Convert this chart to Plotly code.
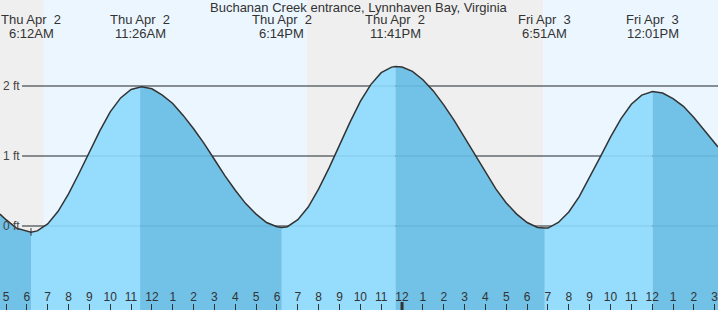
import plotly.graph_objects as go

# ---- data (hours since Thu Apr 2 00:00), heights in ft ----
times = [4.71, 5.0, 5.5, 6.0, 6.2, 6.5, 7.0, 7.5, 8.0, 8.5, 9.0, 9.5, 10.0, 10.5, 11.0, 11.433,
         11.5, 12.0, 12.5, 13.0, 13.5, 14.0, 14.5, 15.0, 15.5, 16.0, 16.5, 17.0, 17.5, 18.0,
         18.233, 18.5, 19.0, 19.5, 20.0, 20.5, 21.0, 21.5, 22.0, 22.5, 23.0, 23.5, 23.683,
         24.0, 24.5, 25.0, 25.5, 26.0, 26.5, 27.0, 27.5, 28.0, 28.5, 29.0, 29.5, 30.0, 30.5,
         30.85, 31.0, 31.5, 32.0, 32.5, 33.0, 33.5, 34.0, 34.5, 35.0, 35.5, 36.017, 36.5,
         37.0, 37.5, 38.0, 38.5, 39.0, 39.16]
heights = [0.17, 0.09, -0.03, -0.08, -0.09, -0.07, 0.03, 0.21, 0.46, 0.75, 1.06, 1.36, 1.63,
           1.83, 1.95, 1.99, 1.99, 1.96, 1.87, 1.75, 1.58, 1.39, 1.18, 0.95, 0.72, 0.51, 0.32,
           0.17, 0.05, -0.01, -0.02, -0.01, 0.09, 0.27, 0.53, 0.83, 1.16, 1.48, 1.78, 2.02,
           2.19, 2.27, 2.28, 2.27, 2.21, 2.09, 1.93, 1.73, 1.51, 1.26, 1.01, 0.76, 0.53, 0.33,
           0.17, 0.05, -0.02, -0.03, -0.03, 0.05, 0.20, 0.42, 0.69, 0.98, 1.27, 1.53, 1.74,
           1.87, 1.92, 1.90, 1.82, 1.71, 1.55, 1.37, 1.18, 1.13]

event_times = [6.2, 11.433, 18.233, 23.683, 30.85, 36.017]
event_dates = ["Thu Apr\u00a0 2", "Thu Apr\u00a0 2", "Thu Apr\u00a0 2", "Thu Apr\u00a0 2",
               "Fri Apr\u00a0 3", "Fri Apr\u00a0 3"]
event_clock = ["6:12AM", "11:26AM", "6:14PM", "11:41PM", "6:51AM", "12:01PM"]

# sunrise / sunset boundaries (hours) and whether the span is night
sun_bounds = [4.71, 6.82, 19.43, 30.77, 39.16]
sun_night = [True, False, True, False]

tick_hours = list(range(5, 40))
tick_labels = ["5", "6", "7", "8", "9", "10", "11", "12", "1", "2", "3", "4", "5", "6",
               "7", "8", "9", "10", "11", "12", "1", "2", "3", "4", "5", "6", "7", "8",
               "9", "10", "11", "12", "1", "2", "3"]
ft_vals = [0, 1, 2]
ft_labels = ["0 ft", "1 ft", "2 ft"]

title = "Buchanan Creek entrance, Lynnhaven Bay, Virginia"

# ---- style ----
X0, X1 = 4.7122, 39.158
Y0, Y1 = -1.2, 3.2286
H = 310
FONT = "Liberation Sans, Arial, sans-serif"
TXT = "#333333"
NIGHT = "#efefef"
DAY = "#ecf6ff"
LIGHT = "#96dcfc"
DARK = "#72c1e6"
LINE = "#333333"

fig = go.Figure()

# fill segments between consecutive extremes (rising = light, falling = dark)
bounds = [times[0]] + event_times + [times[-1]]
for i in range(len(bounds) - 1):
    a, b = bounds[i], bounds[i + 1]
    seg = [(t, h) for t, h in zip(times, heights) if a - 1e-9 <= t <= b + 1e-9]
    sx = [p[0] for p in seg]
    sy = [p[1] for p in seg]
    fig.add_trace(go.Scatter(x=[sx[0], sx[-1]], y=[Y0 - 1, Y0 - 1], mode="lines",
                             line=dict(width=0), hoverinfo="skip", showlegend=False))
    rising = sy[-1] > sy[0]
    fig.add_trace(go.Scatter(x=sx, y=sy, mode="lines", fill="tonexty",
                             fillcolor=LIGHT if rising else DARK,
                             line=dict(width=0), hoverinfo="skip", showlegend=False))

# outline
fig.add_trace(go.Scatter(x=times, y=heights, mode="lines",
                         line=dict(color=LINE, width=1.5),
                         hoverinfo="skip", showlegend=False))
# dummy trace for the bottom tick axis
fig.add_trace(go.Scatter(x=[X0, X1], y=[Y0, Y0], xaxis="x2", mode="lines",
                         line=dict(width=0), hoverinfo="skip", showlegend=False))

shapes = []
for i, night in enumerate(sun_night):
    shapes.append(dict(type="rect", xref="x", yref="paper", x0=sun_bounds[i],
                       x1=sun_bounds[i + 1], y0=0, y1=1, fillcolor=NIGHT if night else DAY,
                       line=dict(width=0), layer="below"))
for v in ft_vals:
    shapes.append(dict(type="line", xref="paper", yref="y", x0=22 / 718, x1=1, y0=v, y1=v,
                       line=dict(color=LINE, width=1), layer="below"))
    shapes.append(dict(type="line", xref="paper", yref="y", x0=22 / 718, x1=1, y0=v, y1=v,
                       line=dict(color="rgba(0,60,100,0.13)", width=1), layer="above"))
# midnight marker tick
shapes.append(dict(type="line", xref="x", yref="paper", x0=24, x1=24, y0=0, y1=8 / H,
                   line=dict(color=LINE, width=3), layer="above"))
# small marker at first low
shapes.append(dict(type="line", xref="x", yref="y", x0=event_times[0], x1=event_times[0],
                   y0=-0.03, y1=-0.14, line=dict(color=LINE, width=1), layer="above"))

ann = [dict(text=title, x=0.5, y=1 - 7 / H, xref="paper", yref="paper", showarrow=False,
            xanchor="center", yanchor="middle", font=dict(family=FONT, size=13, color=TXT))]
for t, d, c in zip(event_times, event_dates, event_clock):
    ann.append(dict(text=d, x=t, y=1 - 20 / H, xref="x", yref="paper", showarrow=False,
                    xanchor="center", yanchor="middle", font=dict(family=FONT, size=13, color=TXT)))
    ann.append(dict(text=c, x=t, y=1 - 33 / H, xref="x", yref="paper", showarrow=False,
                    xanchor="center", yanchor="middle", font=dict(family=FONT, size=13, color=TXT)))
for v, lab in zip(ft_vals, ft_labels):
    ann.append(dict(text=lab, x=1 / 718, y=v, xref="paper", yref="y", showarrow=False,
                    xanchor="left", yanchor="middle",
                    font=dict(family=FONT, size=12, color="#444444")))

fig.update_layout(
    width=718, height=310, margin=dict(l=0, r=0, t=0, b=0),
    paper_bgcolor="white", plot_bgcolor="white", showlegend=False,
    shapes=shapes, annotations=ann,
    xaxis=dict(range=[X0, X1], showgrid=False, zeroline=False, showticklabels=False,
               ticks="", showline=False, fixedrange=True),
    xaxis2=dict(range=[X0, X1], overlaying="x", side="top", anchor="free", position=7 / H,
                tickvals=tick_hours, ticktext=tick_labels, ticks="inside", ticklen=7,
                tickcolor=LINE, tickwidth=1, showgrid=False, zeroline=False, showline=False,
                tickfont=dict(family=FONT, size=12, color=TXT), ticklabelstandoff=0,
                ticklabeloverflow="allow", fixedrange=True),
    yaxis=dict(range=[Y0, Y1], showgrid=False, zeroline=False, showticklabels=False,
               ticks="", showline=False, fixedrange=True),
)

fig.write_html("out.html")
